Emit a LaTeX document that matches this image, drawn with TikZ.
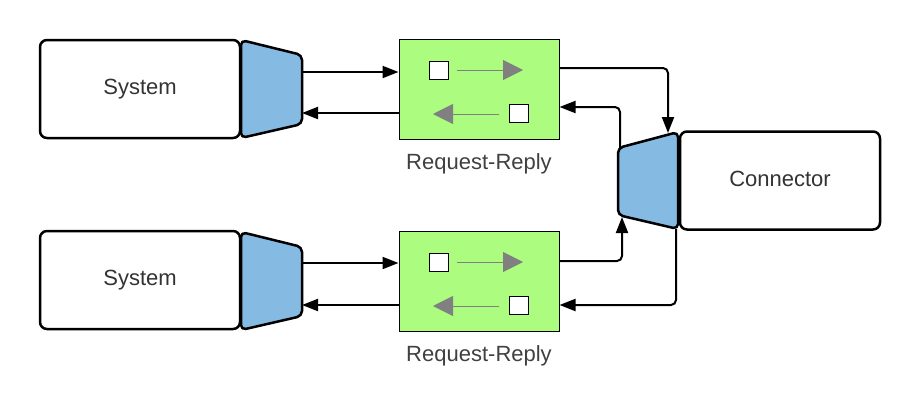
\documentclass[tikz,border=0pt]{standalone}
\usepackage{fontspec}
\setmainfont{Liberation Sans}
\usetikzlibrary{arrows.meta}
\definecolor{adblue}{RGB}{133,187,227}
\definecolor{rrgreen}{RGB}{172,252,128}
\definecolor{txtgray}{RGB}{51,51,51}
\definecolor{lblgray}{RGB}{64,64,64}
\definecolor{arrgray}{RGB}{128,128,128}
\tikzset{
  sysbox/.style={draw=black, line width=2.5pt, rounded corners=7pt, fill=white,
    minimum width=200pt, minimum height=98pt, inner sep=0pt,
    font=\fontsize{22}{26}\selectfont, text=txtgray},
  adapter/.style={draw=black, line width=2.5pt, rounded corners=5pt, fill=adblue, line join=round},
  rrbox/.style={draw=black, line width=1pt, fill=rrgreen, minimum width=160pt, minimum height=100pt, inner sep=0pt},
  sqbox/.style={draw=black, line width=1pt, fill=white, minimum width=19pt, minimum height=18pt, inner sep=0pt},
  rrlabel/.style={font=\fontsize{22}{26}\selectfont, text=lblgray, inner sep=0pt},
  flow/.style={draw=black, line width=2pt, rounded corners=5pt, -{Triangle[length=16pt,width=12pt]}},
  garrow/.style={draw=arrgray, line width=1pt, -{Triangle[length=20pt,width=20pt,fill=arrgray]}}
}
\begin{document}
\begin{tikzpicture}[x=1pt,y=-1pt]
\useasboundingbox (0,0) rectangle (921,416);

% ---- System 1 ----
\node[sysbox] (sys1) at (140,89) {\raisebox{1pt}{System}};
\draw[adapter] (241,40) -- (302,55) -- (302,124) -- (241,138) -- cycle;
\coordinate (ad1out) at (302,72);
\coordinate (ad1in) at (302,113);

% ---- System 2 ----
\node[sysbox] (sys2) at (140,280) {\raisebox{1pt}{System}};
\draw[adapter] (241,232) -- (302,247) -- (302,316) -- (241,330) -- cycle;
\coordinate (ad2out) at (302,263);
\coordinate (ad2in) at (302,305);

% ---- Request-Reply 1 ----
\node[rrbox] (rr1) at (479,89) {};
\node[sqbox] (s1a) at (439,70) {};
\node[sqbox] (s1b) at (518.5,113.5) {};
\coordinate (g1a) at (457,70);
\coordinate (g1b) at (523,70);
\coordinate (g1c) at (499,114);
\coordinate (g1d) at (433,114);
\draw[garrow] (g1a) -- (g1b);
\draw[garrow] (g1c) -- (g1d);
\node[rrlabel] (l1) at (479,164) {Request-Reply};

% ---- Request-Reply 2 ----
\node[rrbox] (rr2) at (479,281) {};
\node[sqbox] (s2a) at (439,262) {};
\node[sqbox] (s2b) at (518.5,305.5) {};
\coordinate (g2a) at (457,262);
\coordinate (g2b) at (523,262);
\coordinate (g2c) at (499,306);
\coordinate (g2d) at (433,306);
\draw[garrow] (g2a) -- (g2b);
\draw[garrow] (g2c) -- (g2d);
\node[rrlabel] (l2) at (479,356) {Request-Reply};

% ---- Connector ----
\node[sysbox] (conn) at (780,180.5) {\raisebox{4pt}{Connector}};
\draw[adapter] (618,148) -- (678,132) -- (678,229) -- (618,215) -- cycle;
\coordinate (cin1) at (668,133);
\coordinate (cout1) at (620,148);
\coordinate (cin2) at (622,217);
\coordinate (cout2) at (676,229);

% ---- Flows ----
\draw[flow] (ad1out) -- (rr1.west |- ad1out);
\draw[flow] (rr1.west |- ad1in) -- (ad1in);
\draw[flow] (ad2out) -- (rr2.west |- ad2out);
\draw[flow] (rr2.west |- ad2in) -- (ad2in);

\draw[flow] (rr1.east |- 0,68) -- (cin1 |- 0,68) -- (cin1);
\draw[flow] (cout1) -- (cout1 |- 0,107) -- (rr1.east |- 0,107);
\draw[flow] (rr2.east |- 0,261) -- (cin2 |- 0,261) -- (cin2);
\draw[flow] (cout2) -- (cout2 |- 0,305) -- (rr2.east |- 0,305);
\end{tikzpicture}
\end{document}
